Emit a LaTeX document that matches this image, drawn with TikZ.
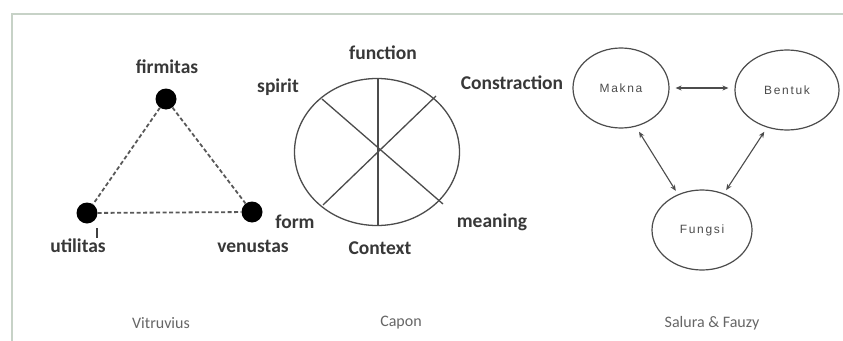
\documentclass[tikz,border=0pt]{standalone}
\usepackage{fontspec}
\setmainfont{Carlito}
\newfontfamily\ellfont[LetterSpace=14]{Liberation Sans}
\usetikzlibrary{arrows.meta,shapes.geometric}
\begin{document}
\begin{tikzpicture}[x=1pt,y=-1pt,
  lbl/.style={font=\fontsize{19.5}{20}\selectfont\bfseries, text=black!78, inner sep=0},
  captxt/.style={font=\fontsize{16}{18}\selectfont, text=black!60, inner sep=0},
  dot/.style={circle, fill=black, inner sep=0, minimum size=21pt},
  dashline/.style={draw=black!65, line width=1.8pt, dash pattern=on 4pt off 2.5pt},
  wheel/.style={draw=black!70, line width=1.3pt},
  ell/.style={ellipse, draw=black!70, line width=1.2pt, inner sep=0,
              font=\ellfont\fontsize{12}{14}\selectfont, text=black!70},
  rel/.style={{Stealth[length=6pt,width=5pt]}-{Stealth[length=6pt,width=5pt]}, draw=black!70, line width=1.1pt},
  frameline/.style={draw=green!20!black!22, line width=1.8pt}]
\useasboundingbox (0,0) rectangle (843,340);
\fill[white] (0,0) rectangle (843,340);
% frame
\coordinate (fb) at (12,341);
\coordinate (ftl) at (12,14);
\coordinate (fr) at (844,14);
\draw[frameline] (fb) -- (ftl) -- (fr);

% Vitruvius triangle
\node[dot] (f) at (166,99) {};
\node[dot] (u) at (87,213) {};
\node[dot] (v) at (252,212) {};
\draw[dashline] (f) -- (u);
\draw[dashline] (f) -- (v);
\draw[dashline] (u) -- (v);
\node[lbl] (lf) at (167,67) {firmitas};
\node[lbl] (lu) at (78,246) {utilitas};
\node[lbl] (lv) at (253,246) {venustas};
\coordinate (t1) at (97,228);
\coordinate (t2) at (97,238);
\draw[draw=black!75, line width=1.2pt] (t1) -- (t2);

% Capon wheel
\coordinate (c) at (377,152);
\draw[wheel] (c) ellipse [x radius=82.5pt, y radius=73.5pt];
\coordinate (w1) at (378,78);
\coordinate (w2) at (378,225);
\coordinate (a1) at (322,99);
\coordinate (a2) at (443,204);
\coordinate (b1) at (323,205);
\coordinate (b2) at (436,96);
\draw[wheel] (w1) -- (w2);
\draw[wheel] (a1) -- (a2);
\draw[wheel] (b1) -- (b2);
\node[lbl] (lfun) at (383,53) {function};
\node[lbl] (lspi) at (278,87) {spirit};
\node[lbl] (lcon) at (512,83) {Constraction};
\node[lbl] (lfor) at (295,222) {form};
\node[lbl] (lmea) at (492,222) {meaning};
\node[lbl] (lctx) at (380,248) {Context};

% Salura & Fauzy
\node[ell, minimum width=96pt, minimum height=80pt] (m) at (621,88) {Makna};
\node[ell, minimum width=104pt, minimum height=80pt] (b) at (787,90) {Bentuk};
\node[ell, minimum width=100pt, minimum height=80pt] (g) at (702,230) {Fungsi};
\draw[rel, shorten <=6pt, shorten >=6pt] (m.east) -- (b.west |- m.east);
\draw[rel, shorten <=6pt, shorten >=4pt] (m.-69) -- (g.124);
\draw[rel, shorten <=5pt, shorten >=4pt] (b.-118) -- (g.59);

% captions
\node[captxt] (cv) at (161,323) {Vitruvius};
\node[captxt] (cc) at (401,323) {Capon};
\node[captxt] (cs) at (712,323) {Salura \& Fauzy};
\end{tikzpicture}
\end{document}
